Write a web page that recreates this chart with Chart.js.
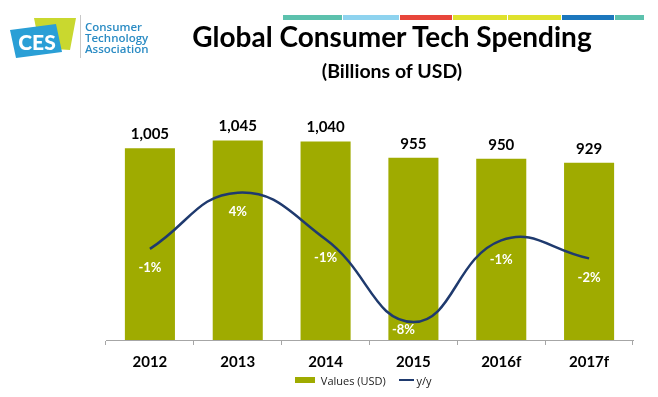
<!DOCTYPE html>
<html>
<head>
<meta charset="utf-8">
<script src="https://cdn.jsdelivr.net/npm/chart.js@4.4.1/dist/chart.umd.min.js"></script>
<style>
  body { margin: 0; background: #fff; font-family: Lato, "Open Sans", sans-serif; }
  #wrap { position: relative; width: 658px; height: 397px; overflow: hidden; }
  #myChart { position: absolute; left: 0; top: 0; }
  .stripe { position: absolute; top: 15px; height: 5px; }
  #title { position: absolute; left: 0; width: 784px; top: 19px; text-align: center; font-weight: 700; font-size: 28px; color: #000; }
  #subtitle { position: absolute; left: 0; width: 784px; top: 59px; text-align: center; font-weight: 700; font-size: 19.5px; color: #000; }
  #cta { position: absolute; left: 85px; top: 21px; color: #2b8cc4; font-size: 11.5px; line-height: 11px; font-weight: 600; font-family: "Open Sans", sans-serif; }
  #sep { position: absolute; left: 80px; top: 15px; width: 1px; height: 43px; background: #c8c8c8; }
  #legend { position: absolute; top: 371px; left: 295px; font-size: 11px; font-family: "Open Sans", sans-serif; color: #222; }
  #legend span { display: inline-block; vertical-align: middle; }
</style>
</head>
<body>
<div id="wrap">
  <canvas id="myChart" width="658" height="397"></canvas>
  <div id="stripes"></div>
  <svg style="position:absolute;left:0;top:0" width="80" height="70">
    <polygon points="34,18 76,18 70,50 40,48" fill="#c9d82f"/>
    <polygon points="10,30 56,24 62,52 16,58" fill="#2a9fd6"/>
    <text x="37" y="50" text-anchor="middle" font-family="Lato, sans-serif" font-weight="900" font-size="21" fill="#fff">CES</text>
  </svg>
  <div id="sep"></div>
  <div id="cta">Consumer<br>Technology<br>Association</div>
  <div id="title">Global Consumer Tech Spending</div>
  <div id="subtitle">(Billions of USD)</div>
  <div id="legend">
    <span style="width:20px;height:6px;background:#9fab00"></span>
    <span style="margin-left:3px">Values (USD)</span>
    <span style="width:15px;height:2px;background:#1f3a6e;margin-left:10px"></span>
    <span>y/y</span>
  </div>
</div>
<script>
// data
let years = ["2012", "2013", "2014", "2015", "2016f", "2017f"];
let spending = [1005, 1045, 1040, 955, 950, 929];
let yoy = [-1.3, 4, -0.4, -8.2, -0.5, -2.2];
let yoyLabels = ["-1%", "4%", "-1%", "-8%", "-1%", "-2%"];

let stripeColors = ["#5cc1ad", "#8ed3ef", "#e8463b", "#dfe22d", "#dfe22d", "#1c77bd", "#5cc1ad"];
let stripeEdges = [283, 343, 400, 453, 508, 562, 615, 645];
stripeColors.forEach((c, i) => {
    let d = document.createElement("div");
    d.className = "stripe";
    d.style.left = stripeEdges[i] + "px";
    d.style.width = (stripeEdges[i + 1] - stripeEdges[i] - 1) + "px";
    d.style.background = c;
    document.getElementById("stripes").appendChild(d);
});

const valueLabels = {
    id: "valueLabels",
    afterDatasetsDraw(chart) {
        let ctx = chart.ctx;
        let bottom = chart.chartArea.bottom;
        ctx.save();
        ctx.textAlign = "center";
        ctx.textBaseline = "middle";
        chart.getDatasetMeta(1).data.forEach((bar, i) => {
            ctx.font = "bold 15px Lato";
            ctx.fillStyle = "#000";
            ctx.fillText(spending[i].toLocaleString("en-US"), bar.x, bar.y - 14);
        });
        chart.getDatasetMeta(0).data.forEach((pt, i) => {
            ctx.font = "bold 13px Lato";
            ctx.fillStyle = "#fff";
            let y = pt.y + 19;
            let x = pt.x;
            // keep the label inside the bar when the point sits near the bottom
            if (y > bottom - 10) {
                y = bottom - 10;
                x = pt.x - 10;
            }
            ctx.fillText(yoyLabels[i], x, y);
        });
        ctx.restore();
    }
};

var data = {
    labels: years,
    datasets: [
        {
            type: "line",
            label: "y/y",
            data: yoy,
            yAxisID: "y1",
            borderColor: "#1f3a6e",
            borderWidth: 2.5,
            tension: 0.45,
            pointRadius: 0,
            order: 0
        },
        {
            type: "bar",
            label: "Values (USD)",
            data: spending,
            yAxisID: "y",
            backgroundColor: "#9fab00",
            categoryPercentage: 1,
            barPercentage: 0.57,
            order: 1
        }
    ]
};

new Chart(document.getElementById("myChart"), {
    data: data,
    plugins: [valueLabels],
    options: {
        responsive: false,
        animation: false,
        layout: { padding: { top: 111, left: 106, right: 25, bottom: 18 } },
        plugins: { legend: { display: false }, tooltip: { enabled: false } },
        scales: {
            x: {
                grid: { offset: true, drawOnChartArea: false, tickLength: 5, color: "#a6a6a6" },
                border: { color: "#a6a6a6" },
                ticks: { font: { family: "Lato", weight: "bold", size: 15 }, color: "#000", padding: 8 }
            },
            y: { display: false, min: 0, max: 1200 },
            y1: { display: false, min: -9.9, max: 11.7 }
        }
    }
});
</script>
</body>
</html>
